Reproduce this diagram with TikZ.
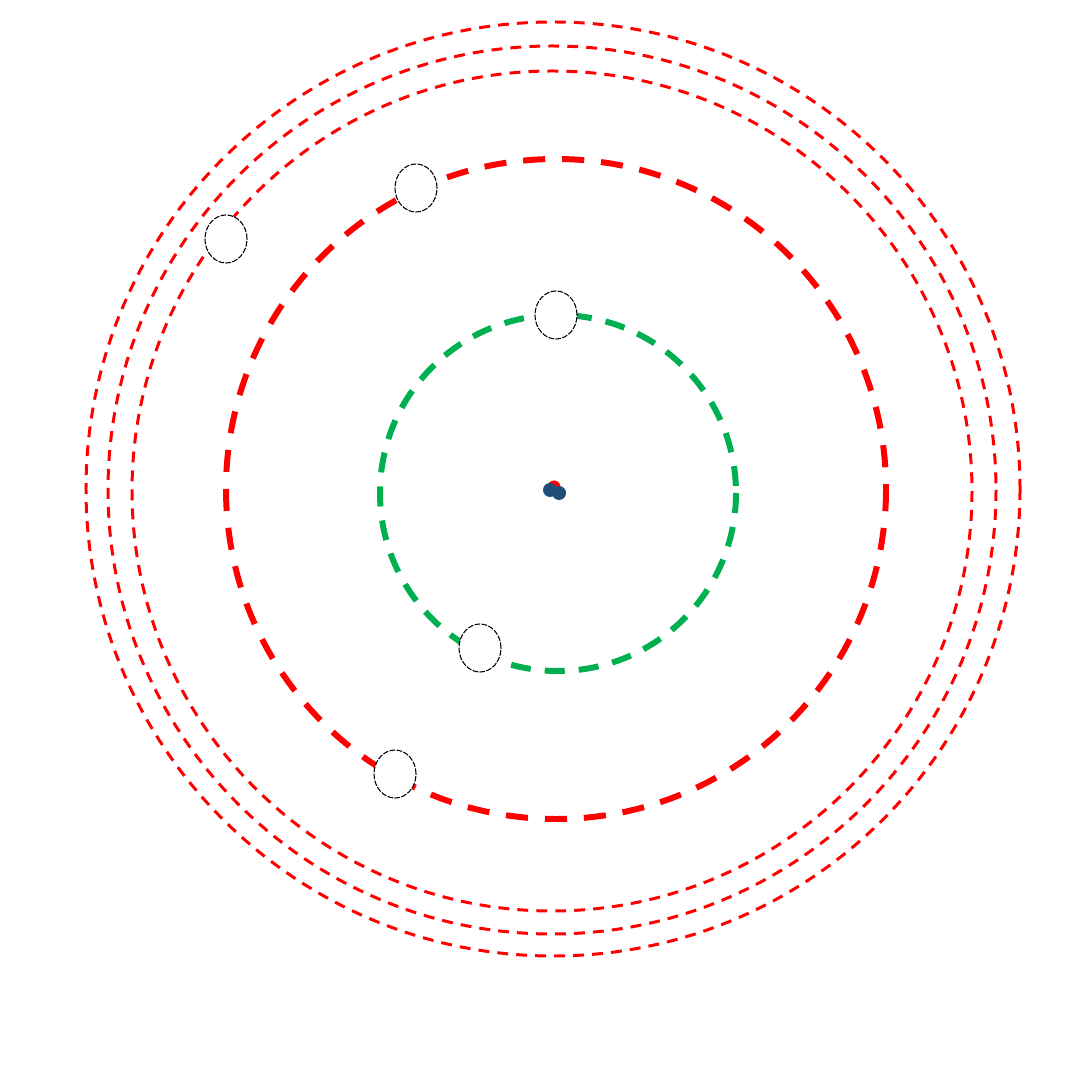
\documentclass[tikz,border=0pt]{standalone}
\usetikzlibrary{shapes.geometric}
\definecolor{verde}{HTML}{00B050}
\definecolor{azul}{HTML}{1F4E79}

\begin{document}
\begin{tikzpicture}[x=0.01cm, y=-0.01cm,
    orbita/.style={red, line width=0.85pt, dash pattern=on 3.1pt off 2.3pt},
    orbitagruesa/.style={red, line width=1.7pt, dash pattern=on 6.3pt off 4.8pt},
    orbitaverde/.style={verde, line width=1.7pt, dash pattern=on 5.7pt off 4pt},
    hueco/.style={ellipse, draw=black, fill=white, line width=0.3pt,
        dash pattern=on 1.6pt off 0.4pt, minimum width=0.42cm, minimum height=0.48cm, inner sep=0pt}]

    \useasboundingbox (0,0) rectangle (1085,1080);

    % Orbitas exteriores
    \draw[orbita] (553,489) circle (467);
    \draw[orbita] (552,490) circle (444);
    \draw[orbita] (552,491) circle (420);

    % Orbita media
    \draw[orbitagruesa] (556,489) circle (330);

    % Orbita interior
    \draw[orbitaverde] (558,493) circle (178);

    % Huecos
    \node[hueco] (h1) at (416,188) {};
    \node[hueco] (h2) at (226,239) {};
    \node[hueco] (h3) at (556,315) {};
    \node[hueco] (h4) at (480,648) {};
    \node[hueco] (h5) at (395,774) {};

    % Nucleo
    \fill[red] (554,487) circle (6.5);
    \fill[azul] (550,490) circle (7);
    \fill[azul] (559,493) circle (7);

\end{tikzpicture}
\end{document}
